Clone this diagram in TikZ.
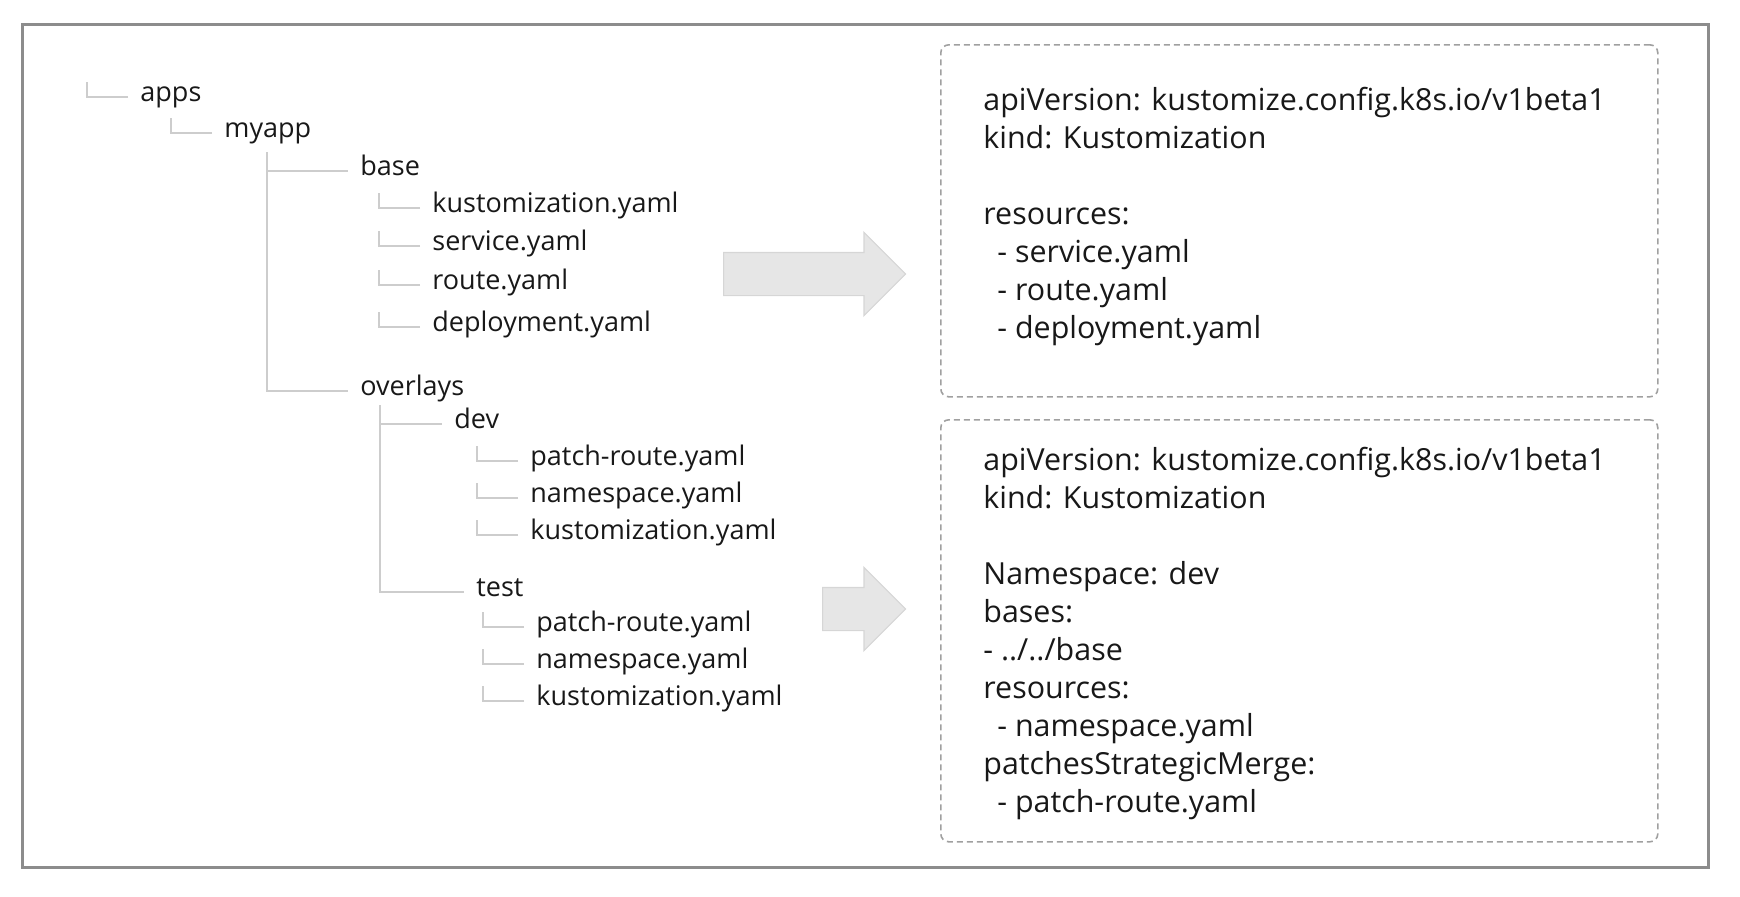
\documentclass[tikz,border=0pt]{standalone}
\usepackage{fontspec}
\setmainfont{Open Sans}
\usetikzlibrary{shapes.arrows}
\definecolor{framegray}{HTML}{8C8C8C}
\definecolor{treegray}{HTML}{CDCDCD}
\definecolor{dashgray}{HTML}{A0A0A0}
\definecolor{arrowfill}{HTML}{E6E6E6}
\definecolor{arrowedge}{HTML}{D6D6D6}
\definecolor{inkgray}{HTML}{181818}
\tikzset{
  treeline/.style={treegray, line width=1pt},
  treenode/.style={anchor=base west, inner xsep=6pt, inner ysep=0pt, yshift=-2pt,
    text=inkgray, font=\fontsize{13.5}{16}\selectfont},
  yamlbox/.style={draw=dashgray, line width=0.8pt, dash pattern=on 3pt off 2pt,
    rounded corners=4pt, anchor=north west, minimum width=358.5pt},
  yamltext/.style={anchor=base west, align=left, inner sep=0pt, text=inkgray,
    font=\fontsize{15.2}{19}\selectfont},
  blockarrow/.style={single arrow, anchor=west, fill=arrowfill, draw=arrowedge,
    line width=0.6pt, inner xsep=0pt, inner ysep=10.5pt, single arrow head extend=10pt}
}
\newcommand{\leafstub}[1]{\draw[treeline] ([yshift=2pt]#1.base west) -| ++(-41,-15);}
\begin{document}
\begin{tikzpicture}[x=0.5pt, y=-0.5pt]
\useasboundingbox (0,0) rectangle (1740,896);
\draw[framegray, line width=1.5pt] (22,24) rectangle (1708,867);

% folder tree
\node[treenode] (apps) at (128,97) {apps};
\node[treenode] (myapp) at (212,133) {myapp};
\node[treenode] (base) at (348,171) {base};
\node[treenode] (bkust) at (420,208) {kustomization.yaml};
\node[treenode] (bsvc) at (420,246) {service.yaml};
\node[treenode] (broute) at (420,285) {route.yaml};
\node[treenode] (bdeploy) at (420,327) {deployment.yaml};
\node[treenode] (overlays) at (348,391) {overlays};
\node[treenode] (dev) at (442,424) {dev};
\node[treenode] (dpatch) at (518,461) {patch-route.yaml};
\node[treenode] (dns) at (518,498) {namespace.yaml};
\node[treenode] (dkust) at (518,535) {kustomization.yaml};
\node[treenode] (test) at (464,592) {test};
\node[treenode] (tpatch) at (524,627) {patch-route.yaml};
\node[treenode] (tns) at (524,664) {namespace.yaml};
\node[treenode] (tkust) at (524,701) {kustomization.yaml};

\coordinate (myappstem) at (267,152);
\coordinate (overlaystem) at (380,405);
\draw[treeline] (myappstem) |- ([yshift=2pt]base.base west);
\draw[treeline] (myappstem) |- ([yshift=2pt]overlays.base west);
\draw[treeline] (overlaystem) |- ([yshift=2pt]dev.base west);
\draw[treeline] (overlaystem) |- ([yshift=2pt]test.base west);
\leafstub{apps}
\leafstub{myapp}
\leafstub{bkust}
\leafstub{bsvc}
\leafstub{broute}
\leafstub{bdeploy}
\leafstub{dpatch}
\leafstub{dns}
\leafstub{dkust}
\leafstub{tpatch}
\leafstub{tns}
\leafstub{tkust}

% block arrows
\node[blockarrow, minimum height=91pt] (basearrow) at (723,274) {};
\node[blockarrow, minimum height=41.5pt] (devarrow) at (822,609) {};

% kustomization files
\node[yamlbox, minimum height=176pt] (basebox) at (940,44) {};
\node[yamltext] (basefile) at (983,338) {apiVersion: kustomize.config.k8s.io/v1beta1\\
kind: Kustomization\\[19pt]
resources:\\
\hspace*{7pt}- service.yaml\\
\hspace*{7pt}- route.yaml\\
\hspace*{7pt}- deployment.yaml};
\node[yamlbox, minimum height=211pt] (devbox) at (940,419) {};
\node[yamltext] (devfile) at (983,812) {apiVersion: kustomize.config.k8s.io/v1beta1\\
kind: Kustomization\\[19pt]
Namespace: dev\\
bases:\\
- ../../base\\
resources:\\
\hspace*{7pt}- namespace.yaml\\
patchesStrategicMerge:\\
\hspace*{7pt}- patch-route.yaml};
\end{tikzpicture}
\end{document}
